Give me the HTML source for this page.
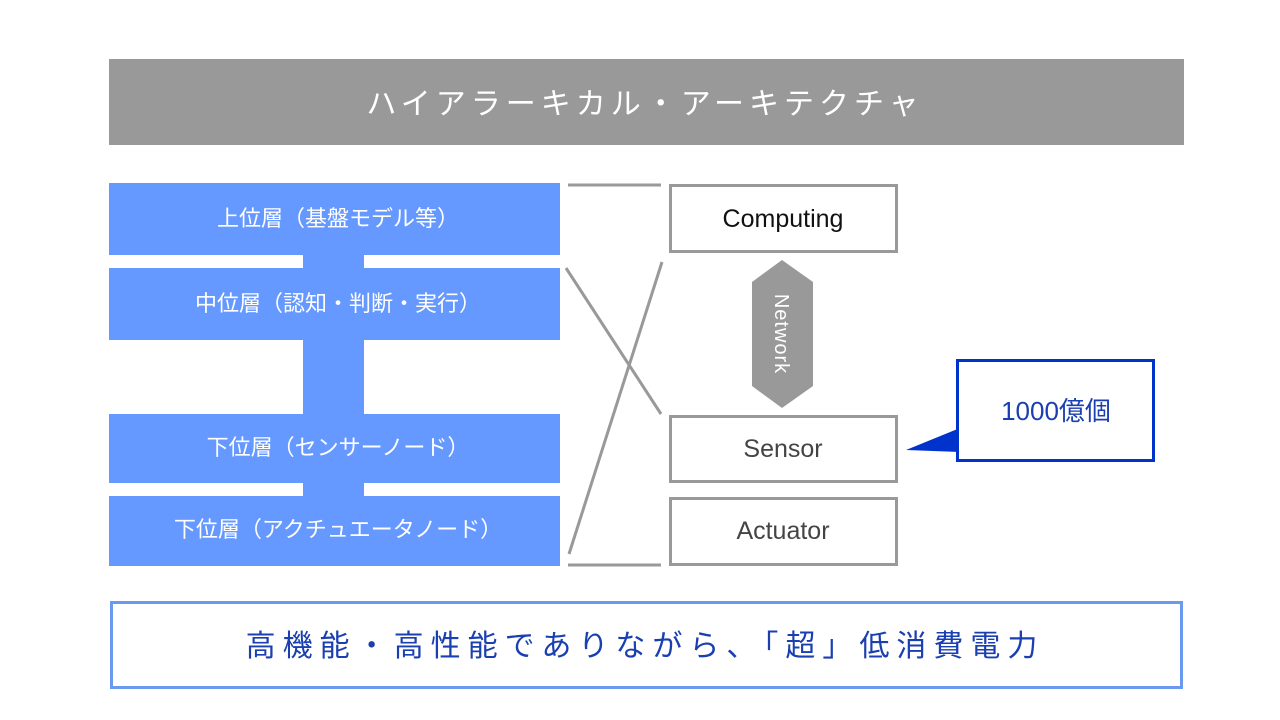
<!DOCTYPE html>
<html><head><meta charset="utf-8"><style>
html,body{margin:0;padding:0;background:#fff;}
svg{display:block}
text{font-family:"Liberation Sans","Noto Sans CJK JP",sans-serif;}
</style></head><body>
<svg width="1280" height="720" xmlns="http://www.w3.org/2000/svg">
<rect x="0" y="0" width="1280" height="720" fill="#fff"/>
<rect x="109" y="59" width="1075" height="86" fill="#999999"/>
<text x="645" y="114" fill="#fff" font-size="30" text-anchor="middle" letter-spacing="5">ハイアラーキカル・アーキテクチャ</text>

<rect x="303" y="250" width="61" height="250" fill="#6699ff"/>
<rect x="109" y="183" width="451" height="72" fill="#6699ff"/>
<rect x="109" y="268" width="451" height="72" fill="#6699ff"/>
<rect x="109" y="414" width="451" height="69" fill="#6699ff"/>
<rect x="109" y="496" width="451" height="70" fill="#6699ff"/>
<g fill="#fff" font-size="22" text-anchor="middle">
<text x="338" y="226">上位層（基盤モデル等）</text>
<text x="338" y="311">中位層（認知・判断・実行）</text>
<text x="338" y="455">下位層（センサーノード）</text>
<text x="338" y="537">下位層（アクチュエータノード）</text>
</g>

<g stroke="#999" stroke-width="3" fill="none">
<line x1="568" y1="185" x2="661" y2="185"/>
<line x1="568" y1="565" x2="661" y2="565"/>
<line x1="566" y1="268" x2="661" y2="414"/>
<line x1="569" y1="554" x2="662" y2="262"/>
<rect x="670.5" y="185.5" width="226" height="66"/>
<rect x="670.5" y="416.5" width="226" height="65"/>
<rect x="670.5" y="498.5" width="226" height="66"/>
</g>
<g font-size="25" text-anchor="middle">
<text x="783" y="227" fill="#111">Computing</text>
<text x="783" y="457" fill="#444">Sensor</text>
<text x="783" y="539" fill="#444">Actuator</text>
</g>

<polygon points="782,260 813,282 813,386 782,408 752,386 752,282" fill="#999"/>
<text transform="translate(775,334) rotate(90)" fill="#fff" font-size="20" text-anchor="middle" letter-spacing="1">Network</text>

<polygon points="906,450 960,428 960,452" fill="#0033cc"/>
<rect x="957.5" y="360.5" width="196" height="100" fill="#fff" stroke="#0033cc" stroke-width="3"/>
<text x="1056" y="420" fill="#1a3fb0" font-size="26" text-anchor="middle">1000億個</text>

<rect x="111.5" y="602.5" width="1070" height="85" fill="#fff" stroke="#6a99f0" stroke-width="3"/>
<text x="645" y="656" fill="#1a3fb0" font-size="30" text-anchor="middle" letter-spacing="7">高機能・高性能でありながら、「超」低消費電力</text>
</svg>
</body></html>
